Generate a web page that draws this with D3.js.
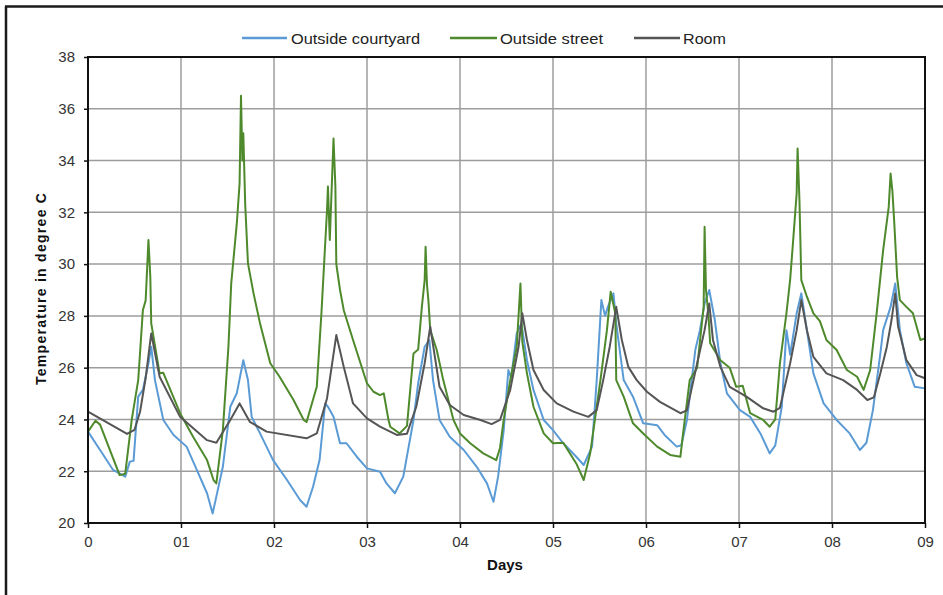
<!DOCTYPE html>
<html><head><meta charset="utf-8">
<script src="https://cdn.jsdelivr.net/npm/d3@7"></script>
<style>
body{margin:0;background:#fff;}
svg{display:block;font-family:"Liberation Sans",Arial,sans-serif;}
</style></head>
<body>
<svg id="c" width="943" height="595"></svg>
<script>
// ---- Data (day, temperature in °C) ----
const seriesNames = ["Outside courtyard", "Outside street", "Room"];
const xTickLabels = ["0","01","02","03","04","05","06","07","08","09"];
const yTicks = [20,22,24,26,28,30,32,34,36,38];

const courtyard = [
[0.00,23.53],[0.13,22.82],[0.27,22.05],[0.40,21.79],[0.45,22.37],[0.49,22.4],[0.54,24.88],[0.59,25.14],[0.65,26.17],[0.68,26.81],[0.72,25.52],[0.81,23.98],[0.92,23.4],[1.06,22.95],[1.17,22.05],[1.28,21.15],[1.34,20.37],[1.38,21.02],[1.45,22.17],[1.53,24.49],[1.60,25.01],[1.67,26.29],[1.72,25.52],[1.76,24.1],[1.85,23.46],[1.99,22.43],[2.14,21.66],[2.28,20.89],[2.35,20.63],[2.42,21.4],[2.49,22.43],[2.55,24.62],[2.58,24.49],[2.64,24.1],[2.71,23.08],[2.78,23.08],[2.89,22.56],[3.00,22.11],[3.14,21.98],[3.21,21.53],[3.30,21.15],[3.39,21.79],[3.50,23.98],[3.55,25.39],[3.62,26.81],[3.67,27.07],[3.71,25.52],[3.78,23.98],[3.89,23.33],[4.04,22.82],[4.18,22.17],[4.29,21.53],[4.36,20.82],[4.41,21.8],[4.47,23.59],[4.52,25.91],[4.55,25.6],[4.61,27.32],[4.66,27.71],[4.72,26.29],[4.79,25.14],[4.90,23.98],[5.00,23.59],[5.11,23.08],[5.25,22.56],[5.33,22.24],[5.42,22.95],[5.47,25.52],[5.52,28.61],[5.56,28.0],[5.59,28.35],[5.65,28.87],[5.68,27.7],[5.76,25.52],[5.86,24.88],[5.97,23.85],[6.12,23.78],[6.20,23.4],[6.33,22.95],[6.38,23.0],[6.44,23.98],[6.53,26.68],[6.58,27.45],[6.63,28.48],[6.68,29.0],[6.74,27.84],[6.80,26.17],[6.87,25.01],[7.01,24.36],[7.12,24.1],[7.23,23.46],[7.33,22.69],[7.39,23.0],[7.46,24.49],[7.51,27.45],[7.55,26.5],[7.62,28.1],[7.67,28.87],[7.73,27.45],[7.80,25.78],[7.91,24.62],[8.05,23.98],[8.19,23.46],[8.30,22.82],[8.37,23.1],[8.44,24.36],[8.52,26.55],[8.55,27.45],[8.63,28.35],[8.68,29.25],[8.73,27.45],[8.80,26.17],[8.89,25.26],[9.00,25.2]
];

const street = [
[0.00,23.53],[0.08,23.95],[0.13,23.8],[0.34,21.85],[0.40,21.9],[0.47,23.98],[0.54,25.52],[0.59,28.22],[0.62,28.6],[0.65,30.93],[0.67,29.5],[0.68,27.71],[0.77,25.78],[0.81,25.8],[0.99,24.24],[1.13,23.33],[1.28,22.43],[1.35,21.66],[1.38,21.53],[1.45,23.59],[1.51,26.81],[1.54,29.25],[1.60,31.57],[1.63,33.12],[1.645,36.5],[1.66,34.0],[1.67,35.05],[1.69,32.34],[1.72,30.03],[1.78,28.87],[1.85,27.71],[1.96,26.17],[2.06,25.65],[2.21,24.75],[2.32,23.98],[2.35,23.9],[2.46,25.26],[2.51,28.1],[2.57,32.08],[2.58,33.0],[2.60,30.93],[2.64,34.85],[2.66,33.0],[2.67,30.0],[2.71,29.0],[2.75,28.22],[2.85,27.07],[3.00,25.39],[3.07,25.07],[3.14,24.94],[3.18,25.01],[3.23,24.0],[3.25,23.72],[3.35,23.46],[3.43,23.75],[3.50,26.55],[3.55,26.7],[3.59,28.35],[3.62,29.38],[3.63,30.67],[3.645,29.2],[3.66,28.61],[3.68,27.45],[3.75,26.68],[3.82,25.52],[3.93,23.98],[4.00,23.46],[4.11,23.08],[4.25,22.69],[4.39,22.43],[4.43,22.9],[4.47,23.98],[4.54,25.52],[4.61,26.81],[4.65,29.25],[4.67,27.0],[4.72,25.78],[4.79,24.49],[4.90,23.46],[5.00,23.08],[5.11,23.1],[5.25,22.3],[5.33,21.66],[5.40,22.69],[5.51,25.52],[5.58,27.45],[5.62,28.93],[5.67,28.1],[5.68,25.52],[5.76,24.88],[5.86,23.85],[5.97,23.46],[6.12,22.95],[6.26,22.63],[6.37,22.56],[6.40,23.5],[6.47,25.52],[6.55,26.0],[6.62,28.35],[6.63,31.44],[6.645,29.0],[6.67,28.1],[6.69,26.94],[6.80,26.29],[6.90,26.0],[6.97,25.26],[7.04,25.3],[7.12,24.24],[7.26,23.98],[7.33,23.72],[7.39,24.0],[7.44,26.17],[7.51,28.1],[7.55,29.4],[7.58,30.8],[7.62,32.73],[7.63,34.47],[7.65,32.47],[7.67,29.38],[7.73,28.74],[7.80,28.1],[7.87,27.8],[7.94,27.07],[8.05,26.68],[8.16,25.91],[8.27,25.65],[8.34,25.14],[8.41,25.9],[8.48,28.1],[8.55,30.54],[8.61,32.21],[8.63,33.5],[8.65,32.8],[8.67,31.57],[8.70,29.51],[8.73,28.61],[8.80,28.35],[8.87,28.1],[8.95,27.07],[9.00,27.13]
];

const room = [
[0.00,24.30],[0.42,23.44],[0.50,23.6],[0.56,24.3],[0.62,25.6],[0.68,27.32],[0.77,25.65],[0.99,24.1],[1.28,23.2],[1.38,23.1],[1.53,23.98],[1.63,24.62],[1.74,23.91],[1.92,23.53],[2.35,23.27],[2.46,23.46],[2.57,24.81],[2.67,27.26],[2.75,26.03],[2.85,24.62],[3.00,24.04],[3.14,23.72],[3.32,23.4],[3.43,23.45],[3.53,24.49],[3.62,26.17],[3.68,27.58],[3.73,26.42],[3.78,25.26],[3.89,24.56],[4.04,24.17],[4.22,23.98],[4.34,23.82],[4.43,23.98],[4.54,25.14],[4.63,26.81],[4.67,28.1],[4.72,27.07],[4.79,25.91],[4.90,25.14],[5.04,24.62],[5.22,24.3],[5.38,24.1],[5.47,24.36],[5.54,25.52],[5.61,26.81],[5.68,28.35],[5.74,27.07],[5.81,26.03],[5.90,25.52],[6.01,25.07],[6.15,24.68],[6.37,24.24],[6.44,24.35],[6.55,26.17],[6.63,27.45],[6.68,28.48],[6.72,27.07],[6.80,26.03],[6.90,25.26],[7.08,24.88],[7.26,24.43],[7.37,24.3],[7.44,24.45],[7.55,26.17],[7.62,27.45],[7.67,28.61],[7.73,27.45],[7.80,26.42],[7.94,25.78],[8.12,25.52],[8.27,25.14],[8.38,24.75],[8.45,24.85],[8.52,25.78],[8.59,26.81],[8.64,27.84],[8.68,28.87],[8.71,27.6],[8.80,26.29],[8.91,25.71],[9.00,25.59]
];

const colors = ["#5b9bd5", "#4e8a2c", "#555555"];
const allSeries = [courtyard, street, room];

// ---- Layout ----
const svg = d3.select("#c");
const L = 88, R = 925, T = 57, B = 523;

const x = d3.scaleLinear().domain([0, 9]).range([L, R]);
const y = d3.scaleLinear().domain([20, 38]).range([B, T]);

// outer frame (left & top)
svg.append("line").attr("x1",6).attr("x2",6).attr("y1",6).attr("y2",595)
  .attr("stroke","#1a1a1a").attr("stroke-width",2.5);
svg.append("line").attr("x1",5).attr("x2",943).attr("y1",6.5).attr("y2",6.5)
  .attr("stroke","#1a1a1a").attr("stroke-width",2.5);

// gridlines
const grid = svg.append("g");
grid.selectAll("line.h").data(yTicks).join("line")
  .attr("x1", L).attr("x2", R).attr("y1", d => y(d)).attr("y2", d => y(d))
  .attr("stroke", "#9c9c9c").attr("stroke-width", 1.5);
grid.selectAll("line.v").data(d3.range(0, 10)).join("line")
  .attr("x1", d => x(d)).attr("x2", d => x(d)).attr("y1", T).attr("y2", B)
  .attr("stroke", "#9c9c9c").attr("stroke-width", 1.5);

// series lines
const line = d3.line().x(d => x(d[0])).y(d => y(d[1])).curve(d3.curveLinear);
[0, 1, 2].forEach(i => {
  svg.append("path").datum(allSeries[i]).attr("d", line)
    .attr("fill", "none").attr("stroke", colors[i]).attr("stroke-width", 2)
    .attr("stroke-linejoin", "round");
});

// plot frame
svg.append("rect").attr("x", L).attr("y", T).attr("width", R - L).attr("height", B - T)
  .attr("fill", "none").attr("stroke", "#111").attr("stroke-width", 2);

// axes
const xAxis = d3.axisBottom(x).tickValues(d3.range(0, 10))
  .tickFormat((d, i) => xTickLabels[i]).tickSize(5).tickPadding(8);
const gx = svg.append("g").attr("transform", `translate(0,${B})`).call(xAxis);
gx.select(".domain").remove();
gx.selectAll(".tick line").attr("stroke", "#111").attr("stroke-width", 1.5);
gx.selectAll(".tick text").attr("fill", "#333").style("font-size", "15px");

const yAxis = d3.axisLeft(y).tickValues(yTicks).tickSize(4).tickPadding(9);
const gy = svg.append("g").attr("transform", `translate(${L},0)`).call(yAxis);
gy.select(".domain").remove();
gy.selectAll(".tick line").attr("stroke", "#111").attr("stroke-width", 1.5);
gy.selectAll(".tick text").attr("fill", "#333").style("font-size", "15px");

// axis titles
svg.append("text").attr("x", 505).attr("y", 570).attr("text-anchor", "middle")
  .style("font-size", "15px").style("font-weight", "bold").attr("fill", "#111").text("Days");
svg.append("text").attr("transform", "translate(46,289) rotate(-90)").attr("text-anchor", "middle")
  .style("font-size", "14px").style("font-weight", "bold").attr("fill", "#111")
  .attr("textLength", 192).attr("lengthAdjust", "spacing")
  .text("Temperature in degree C");

// legend
const legendItems = [
  {x1: 242, x2: 287, tx: 291, w: 129},
  {x1: 450, x2: 497, tx: 500, w: 103},
  {x1: 634, x2: 680, tx: 683, w: 43}
];
const lg = svg.append("g");
legendItems.forEach((it, i) => {
  lg.append("line").attr("x1", it.x1).attr("x2", it.x2).attr("y1", 38).attr("y2", 38)
    .attr("stroke", colors[i]).attr("stroke-width", 2.5);
  lg.append("text").attr("x", it.tx).attr("y", 43.5).style("font-size", "15px")
    .attr("fill", "#222").attr("textLength", it.w).attr("lengthAdjust", "spacingAndGlyphs")
    .text(seriesNames[i]);
});
</script>
</body></html>
